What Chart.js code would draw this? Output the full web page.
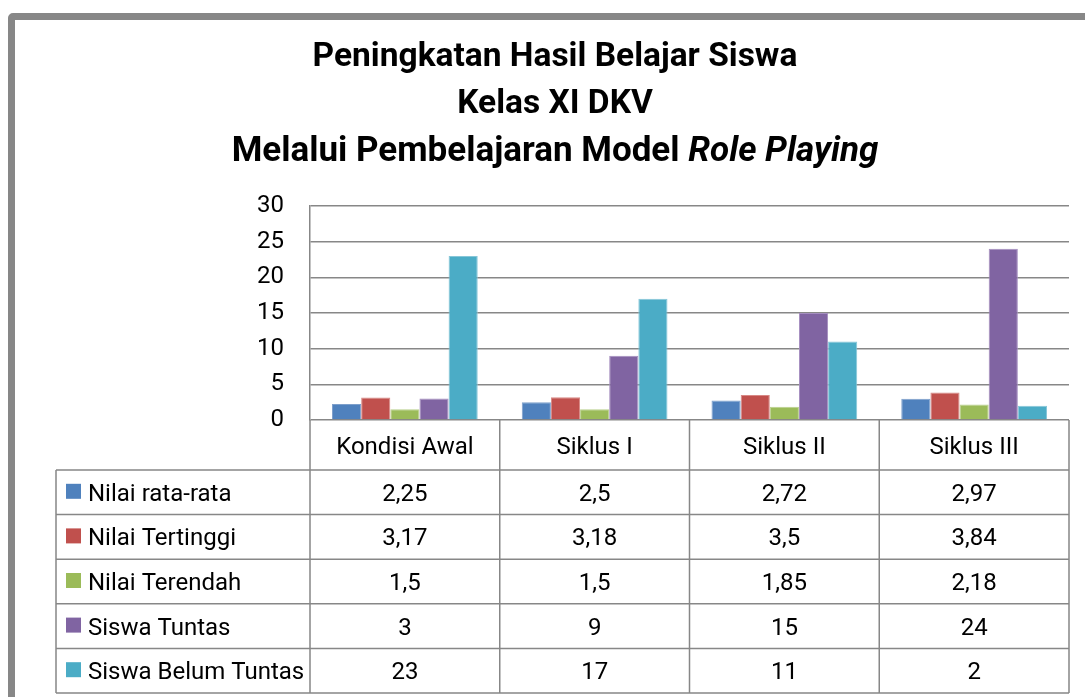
<!DOCTYPE html>
<html><head><meta charset="utf-8">
<script src="https://cdn.jsdelivr.net/npm/chart.js@4.4.0/dist/chart.umd.min.js"></script>
<style>
html,body{margin:0;padding:0;background:#fff;overflow:hidden}
#frame{position:absolute;left:8px;top:13px;width:1200px;height:800px;border:7px solid #878787;border-radius:5px;box-sizing:border-box}
#wrap{position:absolute;left:0;top:0;width:1085px;height:697px}
</style>
</head><body>
<div id="frame"></div>
<div id="wrap"><canvas id="c" width="1085" height="697"></canvas></div>
<script>
// ---- data ----
const categories = ['Kondisi Awal', 'Siklus I', 'Siklus II', 'Siklus III'];
const seriesNames = ['Nilai rata-rata', 'Nilai Tertinggi', 'Nilai Terendah', 'Siswa Tuntas', 'Siswa Belum Tuntas'];
const nilaiRataRata = [2.25, 2.5, 2.72, 2.97];
const nilaiTertinggi = [3.17, 3.18, 3.5, 3.84];
const nilaiTerendah = [1.5, 1.5, 1.85, 2.18];
const siswaTuntas = [3, 9, 15, 24];
const siswaBelumTuntas = [23, 17, 11, 2];
const yTicks = [0, 5, 10, 15, 20, 25, 30];
const titleLines = ['Peningkatan Hasil Belajar Siswa', 'Kelas XI DKV', 'Melalui Pembelajaran Model '];
const titleItalic = 'Role Playing';

// ---- styles ----
const fills = ['#4F81BD', '#C0504D', '#9BBB59', '#8064A2', '#4BACC6'];
const edges = ['#7D9FCB', '#D88885', '#B9D08C', '#A48DBF', '#86C6D8'];
const gridColor = '#878787';
const FONT = 'Roboto';
const fmt = v => String(v).replace('.', ',');

const allSeries = [nilaiRataRata, nilaiTertinggi, nilaiTerendah, siswaTuntas, siswaBelumTuntas];

const titlePlugin = {
  id: 'titleText',
  afterDraw(chart) {
    const ctx = chart.ctx;
    ctx.save();
    ctx.fillStyle = '#000';
    ctx.textBaseline = 'alphabetic';
    ctx.textAlign = 'left';
    const cx = 555;
    const baselines = [66, 113, 161];
    ctx.font = 'bold 33.5px ' + FONT;
    for (let i = 0; i < 2; i++) {
      const w = ctx.measureText(titleLines[i]).width;
      ctx.fillText(titleLines[i], cx - w / 2, baselines[i]);
    }
    const f3 = '35px ' + FONT;
    ctx.font = 'bold ' + f3;
    const w1 = ctx.measureText(titleLines[2]).width;
    ctx.font = 'italic bold ' + f3;
    const w2 = ctx.measureText(titleItalic).width;
    const x0 = cx - (w1 + w2) / 2;
    ctx.font = 'bold ' + f3;
    ctx.fillText(titleLines[2], x0, baselines[2]);
    ctx.font = 'italic bold ' + f3;
    ctx.fillText(titleItalic, x0 + w1, baselines[2]);
    ctx.restore();
  }
};

const tablePlugin = {
  id: 'dataTable',
  afterDraw(chart) {
    const ctx = chart.ctx;
    const area = chart.chartArea;
    const xs = chart.scales.x;
    const n = categories.length;
    const colW = (area.right - area.left) / n;
    const top = area.bottom;
    const headerBottom = top + 50;
    const bottom = 693;
    const rows = seriesNames.length;
    const rowH = (bottom - headerBottom) / rows;
    const leftX = 56;
    ctx.save();
    ctx.strokeStyle = gridColor;
    ctx.lineWidth = 1.5;
    ctx.beginPath();
    for (let k = 0; k <= n; k++) {
      const x = area.left + k * colW;
      ctx.moveTo(x, top); ctx.lineTo(x, bottom);
    }
    ctx.moveTo(leftX, headerBottom); ctx.lineTo(leftX, bottom);
    for (let r = 0; r <= rows; r++) {
      const y = headerBottom + r * rowH;
      ctx.moveTo(leftX, y); ctx.lineTo(area.right, y);
    }
    ctx.stroke();

    ctx.fillStyle = '#000';
    ctx.font = '24px ' + FONT;
    ctx.textBaseline = 'alphabetic';
    ctx.textAlign = 'center';
    const capHalf = 8.5;
    for (let i = 0; i < n; i++) {
      const x = xs.getPixelForValue(i);
      ctx.fillText(categories[i], x, (top + headerBottom) / 2 + capHalf);
    }
    for (let r = 0; r < rows; r++) {
      const mid = headerBottom + r * rowH + rowH / 2;
      ctx.fillStyle = fills[r];
      ctx.fillRect(66, mid - 8.5, 15, 15);
      ctx.fillStyle = '#000';
      ctx.textAlign = 'left';
      ctx.fillText(seriesNames[r], 88, mid + capHalf);
      ctx.textAlign = 'center';
      for (let i = 0; i < n; i++) {
        ctx.fillText(fmt(allSeries[r][i]), xs.getPixelForValue(i), mid + capHalf);
      }
    }
    ctx.restore();
  }
};

new Chart(document.getElementById('c'), {
  type: 'bar',
  data: {
    labels: categories,
    datasets: seriesNames.map((name, i) => ({
      label: name,
      data: allSeries[i],
      backgroundColor: fills[i],
      borderColor: edges[i],
      borderWidth: 1,
      categoryPercentage: 0.768,
      barPercentage: 1.0
    }))
  },
  options: {
    responsive: false,
    animation: false,
    events: [],
    layout: { padding: { top: 206, left: 0, right: 16, bottom: 277 } },
    plugins: { legend: { display: false }, title: { display: false }, tooltip: { enabled: false } },
    scales: {
      x: { display: false },
      y: {
        min: 0, max: 30,
        afterFit(scale) { scale.width = 310; },
        afterBuildTicks(scale) { scale.ticks = yTicks.map(v => ({ value: v })); },
        ticks: { color: '#000', font: { family: FONT, size: 24 }, padding: 26 },
        grid: { color: gridColor, lineWidth: 1.5, drawTicks: false },
        border: { color: gridColor, width: 1.5 }
      }
    }
  },
  plugins: [titlePlugin, tablePlugin]
});
</script></body></html>
